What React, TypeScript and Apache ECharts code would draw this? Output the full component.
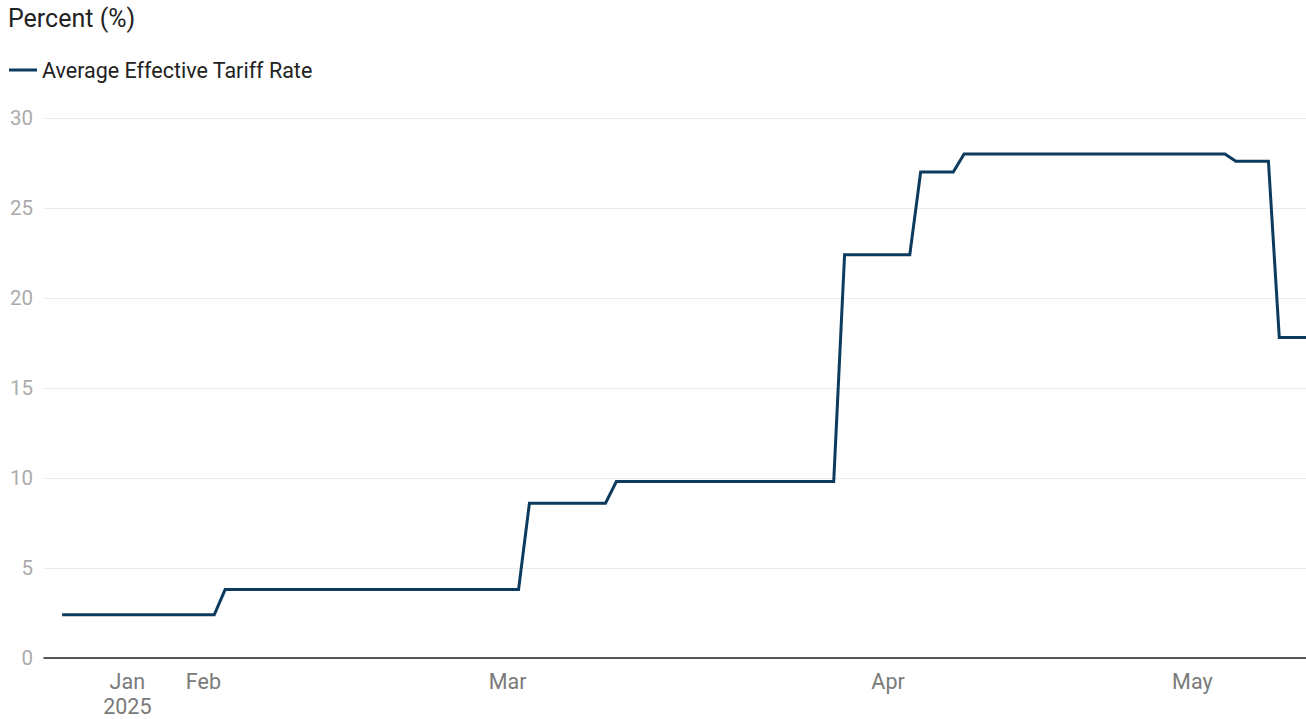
import React, { useEffect, useRef } from "react";
import * as echarts from "echarts";

const seriesName = "Average Effective Tariff Rate";
const yAxisTitle = "Percent (%)";

// vertices of the step line (date, value in %)
const dates = [
  "2025-01-21", "2025-02-04", "2025-02-05", "2025-03-04", "2025-03-05",
  "2025-03-12", "2025-03-13", "2025-04-02", "2025-04-03", "2025-04-09",
  "2025-04-10", "2025-04-13", "2025-04-14", "2025-05-08", "2025-05-09",
  "2025-05-12", "2025-05-13", "2025-05-16",
];
const values = [
  2.4, 2.4, 3.8, 3.8, 8.6,
  8.6, 9.8, 9.8, 22.4, 22.4,
  27.0, 27.0, 28.0, 28.0, 27.6,
  27.6, 17.8, 17.8,
];

const tickDates = ["2025-01-27", "2025-02-03", "2025-03-03", "2025-04-07", "2025-05-05"];
const tickLabels = ["Jan\n2025", "Feb", "Mar", "Apr", "May"];

const yTicks = [0, 5, 10, 15, 20, 25, 30];

const toUTC = (s: string, hours = 0) => {
  const [y, m, d] = s.split("-").map(Number);
  return Date.UTC(y, m - 1, d, hours);
};

const X_MIN = Date.UTC(2025, 0, 19, 8);
const X_MAX = Date.UTC(2025, 4, 15, 11);

export default function App() {
  const ref = useRef<HTMLDivElement>(null);
  useEffect(() => {
    if (!ref.current) return;
    const chart = echarts.init(ref.current, undefined, { renderer: "svg" });
    const tickTs = tickDates.map((d) => toUTC(d));
    const option: any = {
      animation: false,
      backgroundColor: "#ffffff",
      textStyle: { fontFamily: "Roboto" },
      title: {
        text: yAxisTitle,
        left: 8,
        top: 6,
        padding: 0,
        textStyle: { fontSize: 25, fontWeight: "normal", color: "#222222", fontFamily: "Roboto" },
      },
      legend: {
        left: 9,
        top: 59,
        padding: 0,
        itemWidth: 28,
        itemHeight: 3,
        itemGap: 6,
        icon: "rect",
        textStyle: { fontSize: 21.5, color: "#222222", fontFamily: "Roboto", padding: [0, 0, 0, 0] },
        data: [{ name: seriesName, itemStyle: { color: "#0c3b5e" } }],
      },
      grid: {
        left: 44,
        right: 0,
        top: 118,
        bottom: 61,
        containLabel: false,
        outerBoundsMode: "none",
      },
      xAxis: {
        type: "value",
        min: X_MIN,
        max: X_MAX,
        axisLine: { show: true, lineStyle: { color: "#222222", width: 1.6 } },
        axisTick: { show: false },
        splitLine: { show: false },
        axisLabel: {
          customValues: tickTs,
          color: "#7a7a7a",
          fontSize: 21.5,
          lineHeight: 25,
          margin: 11,
          fontFamily: "Roboto",
          hideOverlap: false,
          showMinLabel: true,
          showMaxLabel: true,
          formatter: (v: number) => {
            const i = tickTs.indexOf(v);
            return i >= 0 ? tickLabels[i] : "";
          },
        },
      },
      yAxis: {
        type: "value",
        min: yTicks[0],
        max: yTicks[yTicks.length - 1],
        interval: 5,
        axisLine: { show: false },
        axisTick: { show: false },
        splitLine: { show: true, lineStyle: { color: "#ebebeb", width: 1 } },
        axisLabel: { color: "#ababab", fontSize: 20.5, margin: 11, fontFamily: "Roboto" },
      },
      series: [
        {
          name: seriesName,
          type: "line",
          data: dates.map((d, i) => [toUTC(d), values[i]]),
          showSymbol: false,
          symbol: "none",
          clip: true,
          lineStyle: { color: "#0c3b5e", width: 3, join: "miter" },
          itemStyle: { color: "#0c3b5e" },
        },
      ],
    };
    chart.setOption(option);
    return () => chart.dispose();
  }, []);
  return (
    <div
      ref={ref}
      style={{ position: "absolute", left: 0, top: 0, width: 1306, height: 719 }}
    />
  );
}
